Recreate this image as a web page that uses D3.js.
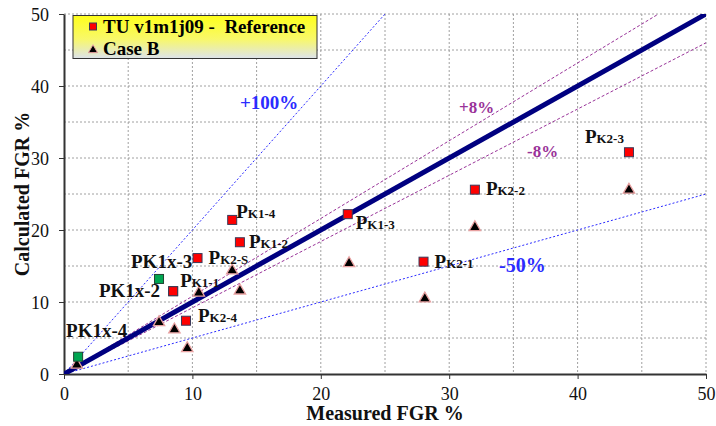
<!DOCTYPE html>
<html>
<head>
<meta charset="utf-8">
<script src="https://cdn.jsdelivr.net/npm/d3@7/dist/d3.min.js"></script>
<style>
  html, body { margin: 0; padding: 0; background: #fff; }
  svg { display: block; }
</style>
</head>
<body>
<svg id="chart" width="716" height="426"></svg>
<script>
// ---------- DATA ----------
const referenceNames = ["PK1-4", "PK1-2", "PK2-S", "PK1-1", "PK2-4", "PK1-3", "PK2-2", "PK2-1", "PK2-3"];
const referenceMeasured = [13.1, 13.7, 10.4, 8.5, 9.5, 22.1, 32.0, 28.0, 44.0];
const referenceCalculated = [21.4, 18.3, 16.1, 11.5, 7.4, 22.2, 25.6, 15.6, 30.8];

const extraNames = ["PK1x-3", "PK1x-2", "PK1x-4"];
const extraMeasured = [7.4, 8.5, 1.1];
const extraCalculated = [13.2, 11.5, 2.4];

const caseBMeasured = [1.0, 7.4, 8.6, 9.6, 10.5, 13.1, 13.7, 22.2, 28.1, 32.0, 44.0];
const caseBCalculated = [1.2, 7.1, 6.1, 3.5, 11.2, 14.3, 11.5, 15.3, 10.4, 20.3, 25.5];

const bandFactors = [1, 1.08, 0.92, 2, 0.5];
const bandLabels = ["", "+8%", "-8%", "+100%", "-50%"];

const xTicks = [0, 10, 20, 30, 40, 50];
const yTicks = [0, 10, 20, 30, 40, 50];
const gridValues = [5, 10, 15, 20, 25, 30, 35, 40, 45, 50];

const legendLabels = ["TU v1m1j09 -  Reference", "Case B"];
const xTitle = "Measured FGR %";
const yTitle = "Calculated FGR %";

// ---------- LAYOUT ----------
const svg = d3.select("#chart");
const L = 64, R = 706, T = 14, B = 374;
const x = d3.scaleLinear().domain([0, 50]).range([L, R]);
const y = d3.scaleLinear().domain([0, 50]).range([B, T]);

const serif = '"Liberation Serif", Tinos, "Times New Roman", serif';

// defs
const defs = svg.append("defs");
defs.append("clipPath").attr("id", "plotclip")
  .append("rect").attr("x", L).attr("y", T).attr("width", R - L).attr("height", B - T);
const grad = defs.append("linearGradient").attr("id", "legGrad")
  .attr("x1", 0).attr("y1", 0).attr("x2", 0).attr("y2", 1);
grad.append("stop").attr("offset", "0%").attr("stop-color", "#ffff1a");
grad.append("stop").attr("offset", "55%").attr("stop-color", "#f8f86a");
grad.append("stop").attr("offset", "100%").attr("stop-color", "#dde3ec");

// grid
const grid = svg.append("g");
grid.selectAll(".gx").data(gridValues).enter().append("line")
  .attr("x1", d => x(d)).attr("x2", d => x(d)).attr("y1", T).attr("y2", B)
  .attr("stroke", "#a0a0a0").attr("stroke-width", 1).attr("stroke-dasharray", "2,2");
grid.selectAll(".gy").data(gridValues).enter().append("line")
  .attr("x1", L).attr("x2", R).attr("y1", d => y(d)).attr("y2", d => y(d))
  .attr("stroke", "#a0a0a0").attr("stroke-width", 1).attr("stroke-dasharray", "2,2");

// axes
const xAxis = d3.axisBottom(x).tickValues(xTicks).tickSize(5).tickSizeOuter(0).tickPadding(8);
const yAxis = d3.axisLeft(y).tickValues(yTicks).tickSize(5).tickSizeOuter(0).tickPadding(10);
const gx = svg.append("g").attr("transform", `translate(0,${B})`).call(xAxis);
const gy = svg.append("g").attr("transform", `translate(${L},0)`).call(yAxis);
[gx, gy].forEach(g => {
  g.attr("font-family", serif);
  g.selectAll("path").attr("stroke", "#333").attr("stroke-width", 2);
  g.selectAll("line").attr("stroke", "#333").attr("stroke-width", 1);
  g.selectAll("text").attr("font-family", serif).attr("font-size", 18).attr("fill", "#111");
});
gy.selectAll("text").attr("dy", "0.34em");

// reference lines
const lineStyles = [
  { color: "#000080", width: 5, dash: null },
  { color: "#993399", width: 1, dash: "3,2" },
  { color: "#993399", width: 1, dash: "3,2" },
  { color: "#2b2bff", width: 1, dash: "2,2" },
  { color: "#2b2bff", width: 1, dash: "2,2" }
];
const lineG = svg.append("g").attr("clip-path", "url(#plotclip)");
const lineOrder = [3, 4, 1, 2, 0];
lineOrder.forEach(i => {
  const f = bandFactors[i];
  const xe = Math.min(50, 50 / f);
  const s = lineStyles[i];
  lineG.append("line")
    .attr("x1", x(0)).attr("y1", y(0))
    .attr("x2", x(xe)).attr("y2", y(xe * f))
    .attr("stroke", s.color).attr("stroke-width", s.width)
    .attr("stroke-dasharray", s.dash);
});

// band labels
const bandLabelPos = {
  1: { px: 459, py: 113, size: 17, color: "#993399" },
  2: { px: 527, py: 157, size: 17, color: "#993399" },
  3: { px: 240, py: 109, size: 19, color: "#2b2bff" },
  4: { px: 499, py: 272, size: 20, color: "#2b2bff" }
};
Object.keys(bandLabelPos).forEach(k => {
  const p = bandLabelPos[k];
  svg.append("text").attr("x", p.px).attr("y", p.py)
    .attr("font-family", serif)
    .attr("font-size", p.size).attr("font-weight", "bold").attr("fill", p.color)
    .text(bandLabels[k]);
});

// markers
const tri = d3.symbol().type(d3.symbolTriangle).size(56);
svg.append("g").selectAll("path").data(caseBMeasured).enter().append("path")
  .attr("d", tri)
  .attr("transform", (d, i) => `translate(${x(d)},${y(caseBCalculated[i]) - 0.5})`)
  .attr("fill", "#000").attr("stroke", "#e8a0a0").attr("stroke-width", 1.3);

const sq = 9;
svg.append("g").selectAll("rect").data(extraMeasured).enter().append("rect")
  .attr("x", d => x(d) - sq / 2)
  .attr("y", (d, i) => y(extraCalculated[i]) - sq / 2)
  .attr("width", sq).attr("height", sq)
  .attr("fill", "#00a651").attr("stroke", "#224433").attr("stroke-width", 1);

svg.append("g").selectAll("rect").data(referenceMeasured).enter().append("rect")
  .attr("x", d => x(d) - sq / 2)
  .attr("y", (d, i) => y(referenceCalculated[i]) - sq / 2)
  .attr("width", sq).attr("height", sq)
  .attr("fill", "#ff0000").attr("stroke", "#3a3a5a").attr("stroke-width", 1);

// point labels
const refOffsets = [
  { dx: 4, dy: -2, a: "start" },
  { dx: 9, dy: 6, a: "start" },
  { dx: 11, dy: 6, a: "start" },
  { dx: 7, dy: -4, a: "start" },
  { dx: 12, dy: 1, a: "start" },
  { dx: 8, dy: 15, a: "start" },
  { dx: 11, dy: 5, a: "start" },
  { dx: 11, dy: 6, a: "start" },
  { dx: -5, dy: -9, a: "end" }
];
referenceNames.forEach((n, i) => {
  const o = refOffsets[i];
  const t = svg.append("text")
    .attr("x", x(referenceMeasured[i]) + o.dx)
    .attr("y", y(referenceCalculated[i]) + o.dy)
    .attr("font-family", serif)
    .attr("text-anchor", o.a).attr("font-weight", "bold").attr("fill", "#111");
  t.append("tspan").attr("font-size", 19).text(n.charAt(0));
  t.append("tspan").attr("font-size", 13).text(n.slice(1));
});

const extraOffsets = [
  { dx: -28, dy: -11, a: "start" },
  { dx: -13, dy: 6, a: "end" },
  { dx: -12, dy: -20, a: "start" }
];
extraNames.forEach((n, i) => {
  const o = extraOffsets[i];
  svg.append("text")
    .attr("x", x(extraMeasured[i]) + o.dx)
    .attr("y", y(extraCalculated[i]) + o.dy)
    .attr("font-family", serif)
    .attr("text-anchor", o.a).attr("font-weight", "bold")
    .attr("font-size", 19).attr("fill", "#111")
    .text(n);
});

// legend
const lg = svg.append("g");
lg.append("rect").attr("x", 73).attr("y", 15.5).attr("width", 244).attr("height", 43)
  .attr("fill", "url(#legGrad)").attr("stroke", "#333").attr("stroke-width", 1);
lg.append("rect").attr("x", 89.5).attr("y", 23).attr("width", 7).attr("height", 7)
  .attr("fill", "#ff0000").attr("stroke", "#3a3a5a").attr("stroke-width", 1);
lg.append("path").attr("d", d3.symbol().type(d3.symbolTriangle).size(36))
  .attr("transform", "translate(93,50)")
  .attr("fill", "#000").attr("stroke", "#e8a0a0").attr("stroke-width", 1);
legendLabels.forEach((l, i) => {
  lg.append("text").attr("x", 103).attr("y", i === 0 ? 33 : 55)
    .attr("font-family", serif)
    .attr("font-size", 19).attr("font-weight", "bold").attr("fill", "#000")
    .style("white-space", "pre")
    .text(l);
});

// axis titles
svg.append("text").attr("x", (L + R) / 2).attr("y", 420)
  .attr("font-family", serif)
  .attr("text-anchor", "middle").attr("font-size", 20).attr("font-weight", "bold")
  .attr("fill", "#111").text(xTitle);
svg.append("text").attr("transform", `translate(29,${(T + B) / 2}) rotate(-90)`)
  .attr("font-family", serif)
  .attr("text-anchor", "middle").attr("font-size", 20).attr("font-weight", "bold")
  .attr("fill", "#111").text(yTitle);
</script>
</body>
</html>
